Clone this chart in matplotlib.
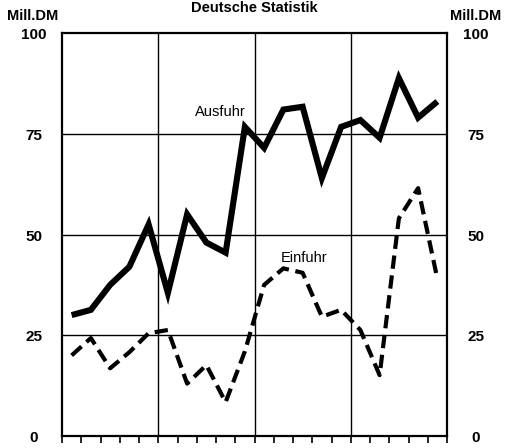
#!/usr/bin/env python3
"""Ausfuhr / Einfuhr line chart (Mill. DM), Deutsche Statistik."""

import matplotlib
matplotlib.use("Agg")
import matplotlib.pyplot as plt
import numpy as np

plt.rcParams["font.family"] = ["Liberation Sans", "DejaVu Sans"]

# Values, one per period (20 periods).
AUSFUHR = [30.0, 31.3, 37.5, 42.0, 52.5, 35.5, 55.0, 48.0, 45.5, 76.7,
           71.5, 81.0, 81.7, 64.0, 76.7, 78.4, 74.0, 88.8, 79.0, 83.0]
EINFUHR = [20.0, 24.3, 16.8, 20.8, 25.5, 26.3, 13.0, 17.6, 8.4, 21.0,
           37.5, 41.6, 40.5, 29.6, 31.3, 26.3, 15.1, 54.0, 61.5, 39.0]
Y_TICKS = [0, 25, 50, 75, 100]
UNIT = "Mill.DM"
TITLE = "Deutsche Statistik"


def main():
    fig = plt.figure(figsize=(5.09, 4.48), dpi=100)
    ax = fig.add_axes([62 / 509, 12 / 448, 385 / 509, 403 / 448])

    n = len(AUSFUHR)
    x = np.arange(n) + 0.5
    ax.plot(x, AUSFUHR, color="black", lw=4.4, solid_joinstyle="miter",
            solid_capstyle="butt", zorder=3)
    ax.plot(x, EINFUHR, color="black", lw=3.0, dashes=(3.2, 1.6),
            dash_capstyle="butt", zorder=3)

    ax.set_xlim(0, n)
    ax.set_ylim(0, 100)
    ax.set_xticks(np.arange(n + 1))
    ax.set_xticklabels([])
    ax.set_yticks(Y_TICKS)
    ax.set_yticklabels([])
    ax.tick_params(axis="x", direction="out", length=5, width=1.2)
    ax.tick_params(axis="y", length=0)
    for spine in ax.spines.values():
        spine.set_linewidth(1.6)

    for v in (5, 10, 15):
        ax.axvline(v, color="black", lw=1.0, zorder=1)
    for v in Y_TICKS[1:-1]:
        ax.axhline(v, color="black", lw=1.0, zorder=1)

    kw = dict(fontsize=11, fontweight="bold", ha="center", va="center")
    for v in Y_TICKS:
        y = fig.transFigure.inverted().transform(ax.transData.transform((0, v)))[1]
        fig.text(34 / 509, y - 2 / 448, str(v), **kw)
        fig.text(476 / 509, y - 2 / 448, str(v), **kw)
    kw["fontsize"] = 10.5
    fig.text(33 / 509, 1 - 16 / 448, UNIT, **kw)
    fig.text(476 / 509, 1 - 16 / 448, UNIT, **kw)
    fig.text(254 / 509, 1 - 0.5 / 448, TITLE, fontsize=10.5, fontweight="bold",
             ha="center", va="top")

    ax.text(8.2, 80.5, "Ausfuhr", fontsize=10.5, ha="center", va="center")
    ax.text(12.6, 44.2, "Einfuhr", fontsize=10.5, ha="center", va="center")

    fig.savefig("out.png", dpi=100)
    plt.close(fig)


if __name__ == "__main__":
    main()
